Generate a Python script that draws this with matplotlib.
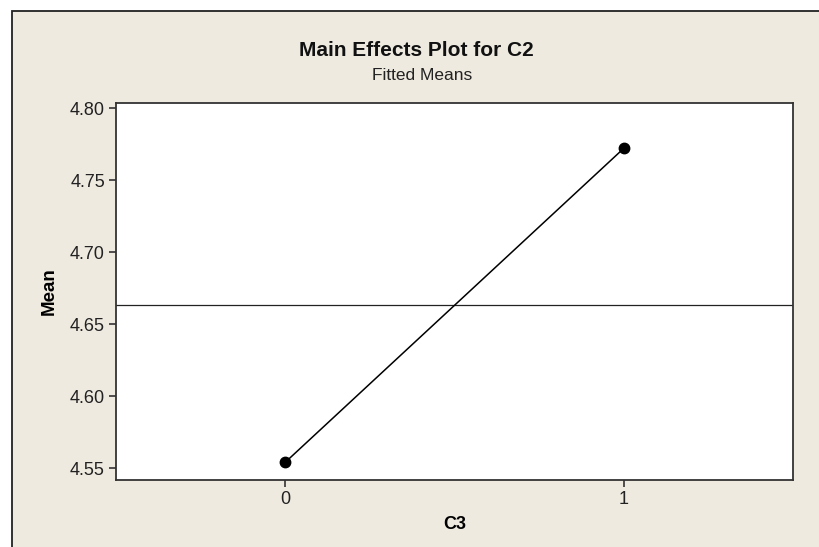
import numpy as np
import matplotlib.pyplot as plt
from matplotlib.patches import Rectangle

# --- Data ---
levels = [0, 1]
level_labels = ["0", "1"]
fitted_means = [4.554, 4.772]
yticks = [4.55, 4.60, 4.65, 4.70, 4.75, 4.80]

plt.rcParams['font.family'] = ['Liberation Sans', 'DejaVu Sans']

W, H = 820, 547
fig = plt.figure(figsize=(W / 100, H / 100), dpi=100, facecolor='white')

# beige panel with border on left/top (cropped on right/bottom)
bg = '#EEEAE0'
fig.patches.append(Rectangle((12 / W, -0.1), 1.2, (H - 11) / H + 0.1,
                             transform=fig.transFigure, facecolor=bg,
                             edgecolor='#222222', linewidth=1.3, zorder=-10))

ax = fig.add_axes([116 / W, (H - 480) / H, (793 - 116) / W, (480 - 103) / H])
ax.set_facecolor('white')

# --- Plot ---
ax.plot(levels, fitted_means, color='black', linewidth=1.1,
        marker='o', markersize=7.5, zorder=3)
ax.axhline(np.mean(fitted_means), color='#222222', linewidth=0.9, zorder=2)

ax.set_xlim(-0.5, 1.5)
ax.set_ylim(4.5417, 4.8035)
ax.set_xticks(levels)
ax.set_xticklabels(level_labels)
ax.set_yticks(yticks)
ax.set_yticklabels([f"{v:.2f}" for v in yticks])

for s in ax.spines.values():
    s.set_color('#333333')
    s.set_linewidth(1.3)
ax.tick_params(direction='out', length=5, width=1.2, color='#333333',
               labelsize=13, labelcolor='#222222', pad=3)

ax.set_xlabel("C3", fontsize=13, fontweight='bold', labelpad=6)
ax.set_ylabel("Mean", fontsize=13.5, fontweight='bold', labelpad=9)

# --- Titles ---
fig.text(416 / W, 1 - 51 / H, "Main Effects Plot for C2", ha='center', va='center',
         fontsize=15, fontweight='bold', color='#111111')
fig.text(422 / W, 1 - 75 / H, "Fitted Means", ha='center', va='center',
         fontsize=12.5, color='#222222')

fig.savefig("out.png", dpi=100, facecolor=fig.get_facecolor())
